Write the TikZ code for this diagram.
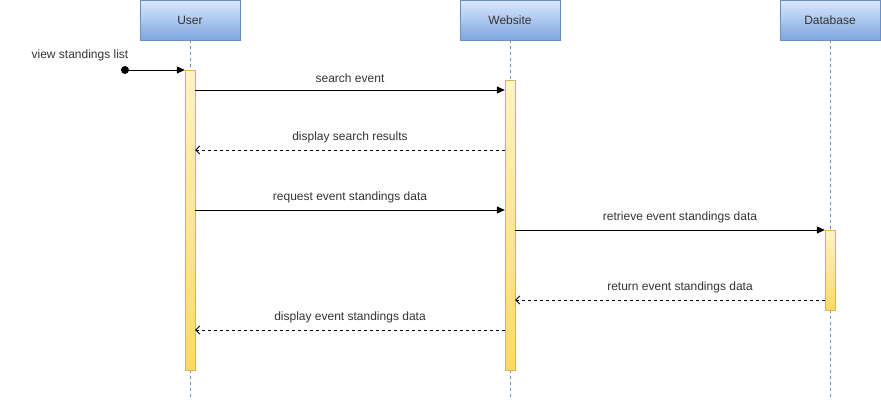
\documentclass[tikz,border=0pt]{standalone}
\usepackage{fontspec}
\setmainfont{Liberation Sans}
\usetikzlibrary{calc,positioning,arrows.meta}
\definecolor{boxtop}{HTML}{DAE8FC}
\definecolor{boxbot}{HTML}{7EA6E0}
\definecolor{boxline}{HTML}{6C8EBF}
\definecolor{acttop}{HTML}{FFF2CC}
\definecolor{actbot}{HTML}{FFD966}
\definecolor{actline}{HTML}{D6B656}
\definecolor{txtgray}{HTML}{333333}
\tikzset{
  actor/.style={draw=boxline,top color=boxtop,bottom color=boxbot,minimum width=100pt,minimum height=40pt,inner sep=0pt,text=txtgray,font=\fontsize{12}{14}\selectfont},
  lifeline/.style={boxline,dash pattern=on 3pt off 3pt},
  actbar/.style={draw=actline,top color=acttop,bottom color=actbot,minimum width=10pt,inner sep=0pt,anchor=north},
  msg/.style={-{Triangle[length=8pt,width=7pt]},line width=0.8pt},
  reply/.style={-{Straight Barb[length=4pt,width=8pt]},dash pattern=on 3pt off 3pt,line width=0.8pt},
  lbl/.style={font=\fontsize{12}{14}\selectfont,inner sep=0pt,text=txtgray}
}
\begin{document}
\begin{tikzpicture}[x=1pt,y=-1pt]
\useasboundingbox (0,0) rectangle (881,401);
% participants
\node[actor] (user) at (190,20) {User};
\node[actor] (web) at (510,20) {Website};
\node[actor] (db) at (830,20) {Database};
% lifelines
\coordinate (userend) at (190,400);
\coordinate (webend) at (510,400);
\coordinate (dbend) at (830,400);
\draw[lifeline] (user.south) -- (userend);
\draw[lifeline] (web.south) -- (webend);
\draw[lifeline] (db.south) -- (dbend);
% activation bars
\node[actbar,minimum height=300pt] (ua) at (190,70) {};
\node[actbar,minimum height=290pt] (wa) at (510,80) {};
\node[actbar,minimum height=80pt] (da) at (830,230) {};
% found message
\fill (125,70) circle (4pt) coordinate (start);
\draw[msg] (start) -- (ua.north west);
\node[lbl] (found) at (80,55) {view standings list};
% messages
\draw[msg] (ua.east |- 0,90) -- node[lbl,above=7pt] {search event} (wa.west |- 0,90);
\draw[reply] (wa.west |- 0,150) -- node[lbl,above=7pt] {display search results} (ua.east |- 0,150);
\draw[msg] (ua.east |- 0,210) -- node[lbl,above=7pt] {request event standings data} (wa.west |- 0,210);
\draw[msg] (wa.east |- 0,230) -- node[lbl,above=7pt,xshift=10pt] {retrieve event standings data} (da.north west);
\draw[reply] (da.west |- 0,300) -- node[lbl,above=7pt,xshift=10pt] {return event standings data} (wa.east |- 0,300);
\draw[reply] (wa.west |- 0,330) -- node[lbl,above=7pt] {display event standings data} (ua.east |- 0,330);
\end{tikzpicture}
\end{document}
